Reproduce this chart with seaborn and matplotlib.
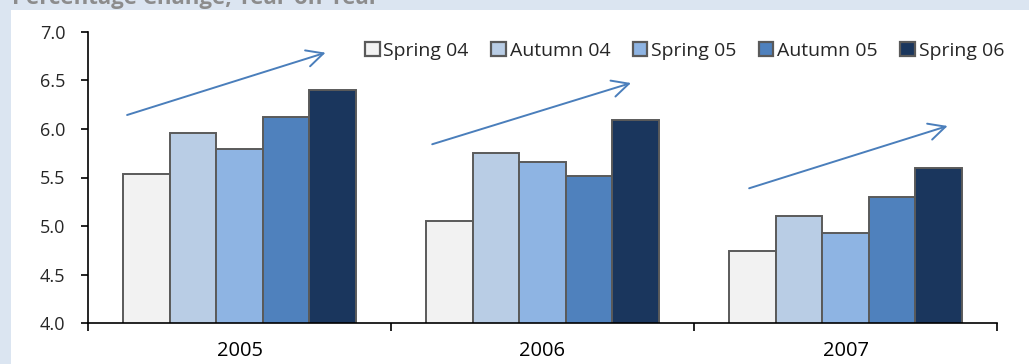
import matplotlib
matplotlib.use("Agg")
import matplotlib.pyplot as plt
import matplotlib.patches as mpatches
import seaborn as sns
import pandas as pd

# Survey years and survey rounds
years = ["2005", "2006", "2007"]
rounds = ["Spring 04", "Autumn 04", "Spring 05", "Autumn 05", "Spring 06"]

# Expected percentage change per year, one list per survey round
spring_04 = [5.54, 5.05, 4.74]
autumn_04 = [5.96, 5.75, 5.10]
spring_05 = [5.79, 5.66, 4.93]
autumn_05 = [6.12, 5.52, 5.30]
spring_06 = [6.40, 6.09, 5.60]

colors = ["#f2f2f2", "#b9cde5", "#8eb4e3", "#4f81bd", "#1a365d"]

# Trend arrows per year group: (x0, y0, x1, y1) in data units
trend_arrows = [
    (-0.371, 6.143, 0.284, 6.784),
    (0.636, 5.842, 1.292, 6.472),
    (1.682, 5.389, 2.337, 6.030),
]

series = [spring_04, autumn_04, spring_05, autumn_05, spring_06]
df = pd.DataFrame(
    [(y, r, v) for r, vals in zip(rounds, series) for y, v in zip(years, vals)],
    columns=["year", "round", "value"],
)

sns.set_theme(style="white")
plt.rcParams["font.family"] = ["Open Sans", "DejaVu Sans"]

fig = plt.figure(figsize=(10.29, 3.64), dpi=100)
fig.patch.set_facecolor("#dbe5f1")
# white panel behind the chart
fig.patches.append(mpatches.Rectangle((11 / 1029, 0), 1, 1 - 10 / 364,
                                      transform=fig.transFigure,
                                      facecolor="white", edgecolor="none",
                                      zorder=-10))
fig.text(12 / 1029, 1 - 4 / 364, "Percentage Change, Year-on-Year",
         ha="left", va="baseline", fontsize=16, fontweight="bold",
         color="#8c8c8c", zorder=-5)

ax = fig.add_axes([88 / 1029, 1 - 323.3 / 364, 909 / 1029, 291.6 / 364])
ax.set_facecolor("none")
ax.set_zorder(1)

sns.barplot(data=df, x="year", y="value", hue="round", hue_order=rounds,
            palette=colors, width=0.77, ax=ax, edgecolor="#5a5a5a",
            linewidth=1.4, saturation=1, errorbar=None)

ax.set_ylim(4.0, 7.0)
ax.set_xlim(-0.5, 2.5)
yt = [4.0, 4.5, 5.0, 5.5, 6.0, 6.5, 7.0]
ax.set_yticks(yt)
ax.set_yticklabels([f"{v:.1f}" for v in yt])
ax.set_xlabel("")
ax.set_ylabel("")

for s in ["top", "right"]:
    ax.spines[s].set_visible(False)
for s in ["left", "bottom"]:
    ax.spines[s].set_color("black")
    ax.spines[s].set_linewidth(1.2)

# category labels centred, tick marks on the group boundaries
ax.set_xticks([0, 1, 2])
ax.set_xticks([-0.5, 0.5, 1.5, 2.5], minor=True)
ax.tick_params(axis="x", which="major", length=0, labelsize=14.5, pad=13,
               colors="black")
ax.tick_params(axis="x", which="minor", direction="out", length=5.5,
               width=1.2, color="black", bottom=True)
ax.tick_params(axis="y", direction="out", length=5.3, width=1.2,
               color="black", labelsize=13, pad=11, left=True)

for x0, y0, x1, y1 in trend_arrows:
    ax.annotate("", xy=(x1, y1), xytext=(x0, y0),
                arrowprops=dict(arrowstyle="->,head_length=1.0,head_width=0.5",
                                color="#4a7ebb", lw=1.4,
                                shrinkA=0, shrinkB=0))

leg = ax.legend(loc="upper right", bbox_to_anchor=(1.008, 0.965), ncol=5,
                frameon=False, fontsize=14, handlelength=0.75,
                handleheight=0.75, handletextpad=0.2, columnspacing=1.15,
                borderaxespad=0, borderpad=0)
for h in leg.legend_handles:
    h.set_edgecolor("#5a5a5a")
    h.set_linewidth(1.6)

fig.savefig("out.png", dpi=100, facecolor=fig.get_facecolor())
